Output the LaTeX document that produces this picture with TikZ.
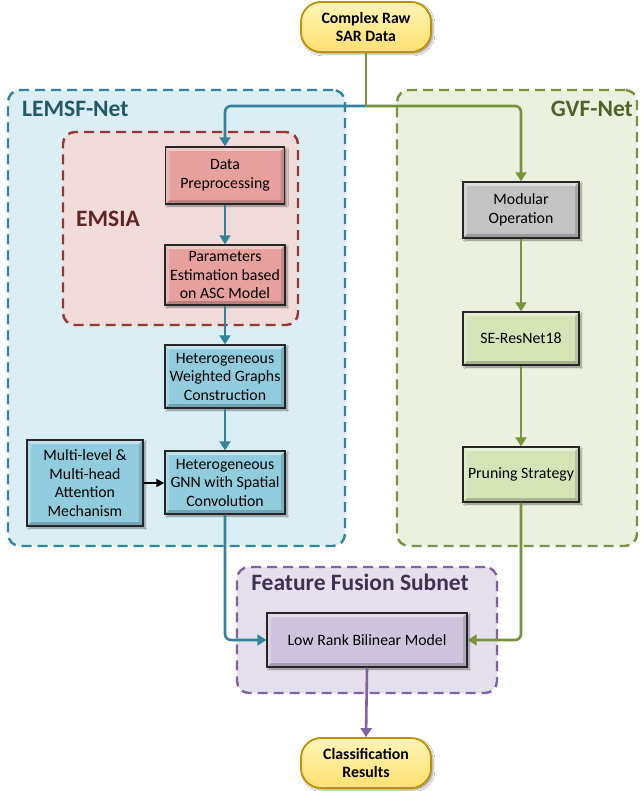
\documentclass[tikz,border=0pt]{standalone}
\usepackage{fontspec}
\setmainfont{Carlito}
\usetikzlibrary{arrows.meta,shadows.blur}

\definecolor{lemsfFill}{HTML}{DBEEF3}
\definecolor{lemsfLine}{HTML}{31849B}
\definecolor{lemsfText}{HTML}{215968}
\definecolor{gvfFill}{HTML}{EBF1DE}
\definecolor{gvfLine}{HTML}{77933C}
\definecolor{gvfText}{HTML}{4F6228}
\definecolor{emsiaFill}{HTML}{F2DCDB}
\definecolor{emsiaLine}{HTML}{953735}
\definecolor{emsiaText}{HTML}{632523}
\definecolor{ffsFill}{HTML}{E5E0EC}
\definecolor{ffsLine}{HTML}{8064A2}
\definecolor{ffsText}{HTML}{403152}
\definecolor{redBox}{HTML}{E6A19F}
\definecolor{blueBox}{HTML}{90CCDD}
\definecolor{greyBox}{HTML}{C3C3C3}
\definecolor{greenBox}{HTML}{D5E4B6}
\definecolor{purpleBox}{HTML}{CFC4DD}
\definecolor{termTop}{HTML}{FFF5B5}
\definecolor{termBot}{HTML}{FFE070}
\definecolor{termLine}{HTML}{BF9000}

% bevelled edge for the process boxes
\newcommand\bevelframe{%
  \fill[white,opacity=.45] (path picture bounding box.north west) -- (path picture bounding box.north east)
    -- ([shift={(-4pt,-4pt)}]path picture bounding box.north east) -- ([shift={(4pt,-4pt)}]path picture bounding box.north west) -- cycle;
  \fill[white,opacity=.25] (path picture bounding box.north west) -- ([shift={(4pt,-4pt)}]path picture bounding box.north west)
    -- ([shift={(4pt,4pt)}]path picture bounding box.south west) -- (path picture bounding box.south west) -- cycle;
  \fill[black,opacity=.2] (path picture bounding box.south west) -- (path picture bounding box.south east)
    -- ([shift={(-4pt,4pt)}]path picture bounding box.south east) -- ([shift={(4pt,4pt)}]path picture bounding box.south west) -- cycle;
  \fill[black,opacity=.14] (path picture bounding box.north east) -- (path picture bounding box.south east)
    -- ([shift={(-4pt,4pt)}]path picture bounding box.south east) -- ([shift={(-4pt,-4pt)}]path picture bounding box.north east) -- cycle;
}

\tikzset{
  container/.style={draw, dash pattern=on 10pt off 6pt, line width=2.4pt, rounded corners=12pt, inner sep=0pt},
  grouptitle/.style={inner sep=0pt, font=\fontsize{23.5}{28}\selectfont\bfseries},
  procbox/.style={draw=black!85, line width=1.4pt, align=center, inner sep=2pt,
    font=\fontsize{15.8}{18.5}\selectfont,
    blur shadow={shadow xshift=2pt, shadow yshift=-2pt, shadow opacity=45, shadow blur steps=4},
    path picture={\bevelframe}},
  terminal/.style={draw=termLine, line width=1.8pt, rounded corners=20pt, top color=termTop, bottom color=termBot,
    minimum width=130pt, minimum height=50pt, align=center, inner sep=2pt,
    font=\fontsize{15.8}{18.5}\selectfont\bfseries,
    blur shadow={shadow xshift=2pt, shadow yshift=-2pt, shadow opacity=40, shadow blur steps=4}},
  flowB/.style={draw=lemsfLine, line width=2.6pt, rounded corners=6pt, -{Triangle[length=9pt,width=11pt]}},
  flowG/.style={draw=gvfLine, line width=2.6pt, rounded corners=6pt, -{Triangle[length=9pt,width=11pt]}},
  flowP/.style={draw=ffsLine, line width=2.6pt, -{Triangle[length=9pt,width=11pt]}},
  flowK/.style={draw=black, line width=1.6pt, -{Triangle[length=8pt,width=8pt]}},
}

\begin{document}
\begin{tikzpicture}[x=1pt,y=-1pt]
\useasboundingbox (0,0) rectangle (641,791);
\fill[white] (0,0) rectangle (641,791);

% group frames
\node[container, draw=lemsfLine, fill=lemsfFill, minimum width=337pt, minimum height=456pt] (lemsf) at (176.5,318) {};
\node[container, draw=gvfLine, fill=gvfFill, minimum width=240pt, minimum height=456pt] (gvf) at (517,318) {};
\node[container, draw=emsiaLine, fill=emsiaFill, minimum width=235pt, minimum height=193pt] (emsia) at (180.5,228.5) {};
\node[container, draw=ffsLine, fill=ffsFill, minimum width=260pt, minimum height=126pt] (ffs) at (367,630) {};

% group titles
\node[grouptitle, text=lemsfText, anchor=west] (lemsfT) at (22,109) {LEMSF-Net};
\node[grouptitle, text=gvfText, anchor=east] (gvfT) at (633,109) {GVF-Net};
\node[grouptitle, text=emsiaText] (emsiaT) at (108,219) {EMSIA};
\node[grouptitle, text=ffsText] (ffsT) at (360,582) {Feature Fusion Subnet};

% terminals
\node[terminal] (src) at (366,27) {Complex Raw\\SAR Data};
\node[terminal] (cls) at (366,763) {Classification\\Results};

% LEMSF-Net column
\node[procbox, fill=redBox, minimum width=119pt, minimum height=57pt] (dp) at (225,175.5) {Data\\Preprocessing};
\node[procbox, fill=redBox, minimum width=120pt, minimum height=60pt] (pe) at (225,275) {Parameters\\Estimation based\\on ASC Model};
\node[procbox, fill=blueBox, minimum width=120pt, minimum height=63pt] (hwg) at (225,376.5) {Heterogeneous\\Weighted Graphs\\Construction};
\node[procbox, fill=blueBox, minimum width=120pt, minimum height=63pt] (gnn) at (225,482.5) {Heterogeneous\\GNN with Spatial\\Convolution};
\node[procbox, fill=blueBox, minimum width=116pt, minimum height=86pt] (mla) at (85,483) {Multi-level \&\\Multi-head\\Attention\\Mechanism};

% GVF-Net column
\node[procbox, fill=greyBox, minimum width=116pt, minimum height=56pt] (mod) at (521,210) {Modular\\Operation};
\node[procbox, fill=greenBox, minimum width=116pt, minimum height=53pt] (se) at (521,338.5) {SE-ResNet18};
\node[procbox, fill=greenBox, minimum width=116pt, minimum height=55pt] (pr) at (521,474.5) {Pruning Strategy};

% fusion
\node[procbox, fill=purpleBox, minimum width=200pt, minimum height=54pt] (lr) at (367,640) {Low Rank Bilinear Model};

% connectors
\coordinate (j) at (366,106);
\draw[flowB] (j) -| (dp.north);
\draw[draw=gvfLine, line width=2.6pt] (src.south) -- (j);
\draw[flowG] (j) -| (mod.north);

\draw[flowB] (dp.south) -- (pe.north);
\draw[flowB] (pe.south) -- (hwg.north);
\draw[flowB] (hwg.south) -- (gnn.north);
\draw[flowK] (mla.east) -- (gnn.west |- mla.east);
\draw[flowB] (gnn.south) |- (lr.west);

\draw[flowG] (mod.south) -- (se.north);
\draw[flowG] (se.south) -- (pr.north);
\draw[flowG] (pr.south) |- (lr.east);

\draw[flowP] (lr.south) -- (cls.north);
\end{tikzpicture}
\end{document}
